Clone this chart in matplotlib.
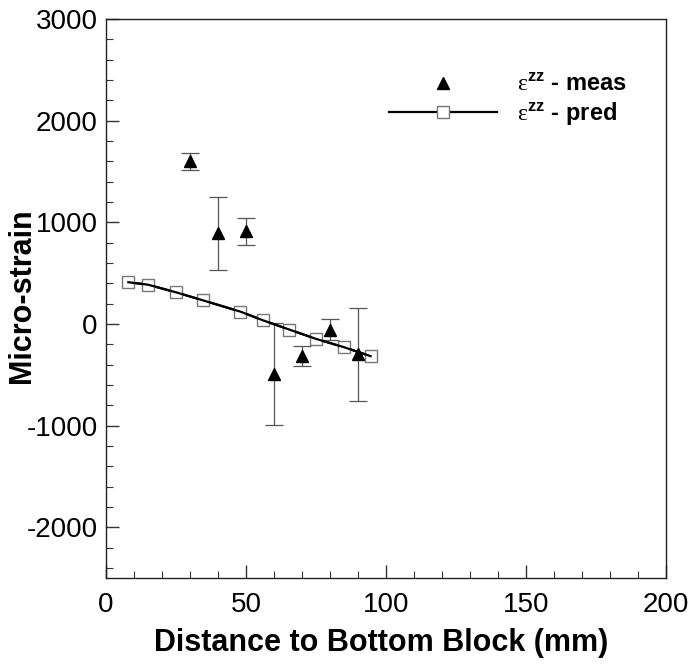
import matplotlib.pyplot as plt
from matplotlib.lines import Line2D
from matplotlib.ticker import MultipleLocator

plt.rcParams['font.family'] = ['Liberation Sans', 'DejaVu Sans']
plt.rcParams['axes.unicode_minus'] = False
plt.rcParams['mathtext.fontset'] = 'custom'
plt.rcParams['mathtext.rm'] = 'Liberation Serif'
plt.rcParams['mathtext.bf'] = 'Liberation Sans:bold'

# predicted strain along the specimen
pred_x = [8, 15, 25, 34.5, 48, 56, 65.5, 75, 85, 94.5]
pred_y = [410, 386, 311, 233, 121, 36, -56, -147, -229, -317]

# measured strain with scatter
meas_x = [30, 40, 50, 60, 70, 80, 90]
meas_y = [1600, 890, 910, -490, -315, -55, -300]
meas_err = [85, 360, 135, 500, 95, 105, 460]

fig = plt.figure(figsize=(6.89, 6.66), dpi=100)
ax = fig.add_axes([0.1538, 0.1321, 0.8128, 0.8394])

ax.errorbar(
    meas_x,
    meas_y,
    yerr=meas_err,
    fmt="none",
    ecolor="#555555",
    elinewidth=0.9,
    capsize=6.5,
    capthick=0.9,
    zorder=2,
)
ax.plot(
    pred_x,
    pred_y,
    color="black",
    linewidth=1.6,
    marker="s",
    markersize=8,
    markerfacecolor="white",
    markeredgecolor="#777777",
    markeredgewidth=1.0,
    zorder=3,
)
# redraw the line on top of the square symbols
ax.plot(pred_x, pred_y, color="black", linewidth=1.6, zorder=4)
ax.plot(meas_x, meas_y, linestyle="none", marker="^", markersize=9,
        color="black", zorder=5)

ax.set_xlim(0, 200)
ax.set_ylim(-2500, 3000)
ax.xaxis.set_major_locator(MultipleLocator(50))
ax.xaxis.set_minor_locator(MultipleLocator(10))
ax.yaxis.set_major_locator(MultipleLocator(1000))
ax.yaxis.set_minor_locator(MultipleLocator(200))

ax.tick_params(which="both", direction="in", top=False, right=False,
               color="#333333", labelsize=20)
ax.tick_params(which="major", length=9.5, width=1.0)
ax.tick_params(axis="y", which="major", pad=6)
ax.tick_params(axis="x", which="major", pad=10)
ax.tick_params(which="minor", length=5, width=0.8)
for spine in ax.spines.values():
    spine.set_linewidth(1.0)
    spine.set_color("#222222")

ax.set_xlabel("Distance to Bottom Block (mm)", fontsize=22, fontweight="bold")
ax.set_ylabel("Micro-strain", fontsize=22, fontweight="bold")
ax.xaxis.set_label_coords(0.491, -0.089)
ax.yaxis.set_label_coords(-0.123, 0.505)

handles = [
    Line2D([], [], linestyle="none", marker="^", markersize=9, color="black"),
    Line2D([], [], color="black", linewidth=1.6, marker="s", markersize=8,
           markerfacecolor="white", markeredgecolor="#777777"),
]
labels = [r"$\mathrm{ε}^{\mathbf{zz}}$ - meas", r"$\mathrm{ε}^{\mathbf{zz}}$ - pred"]
leg = ax.legend(
    handles,
    labels,
    loc="upper left",
    bbox_to_anchor=(0.467, 0.941),
    frameon=False,
    handlelength=4.6,
    handletextpad=0.85,
    labelspacing=0.15,
    prop={"size": 17, "weight": "bold"},
)

fig.savefig("out.png", dpi=100)
